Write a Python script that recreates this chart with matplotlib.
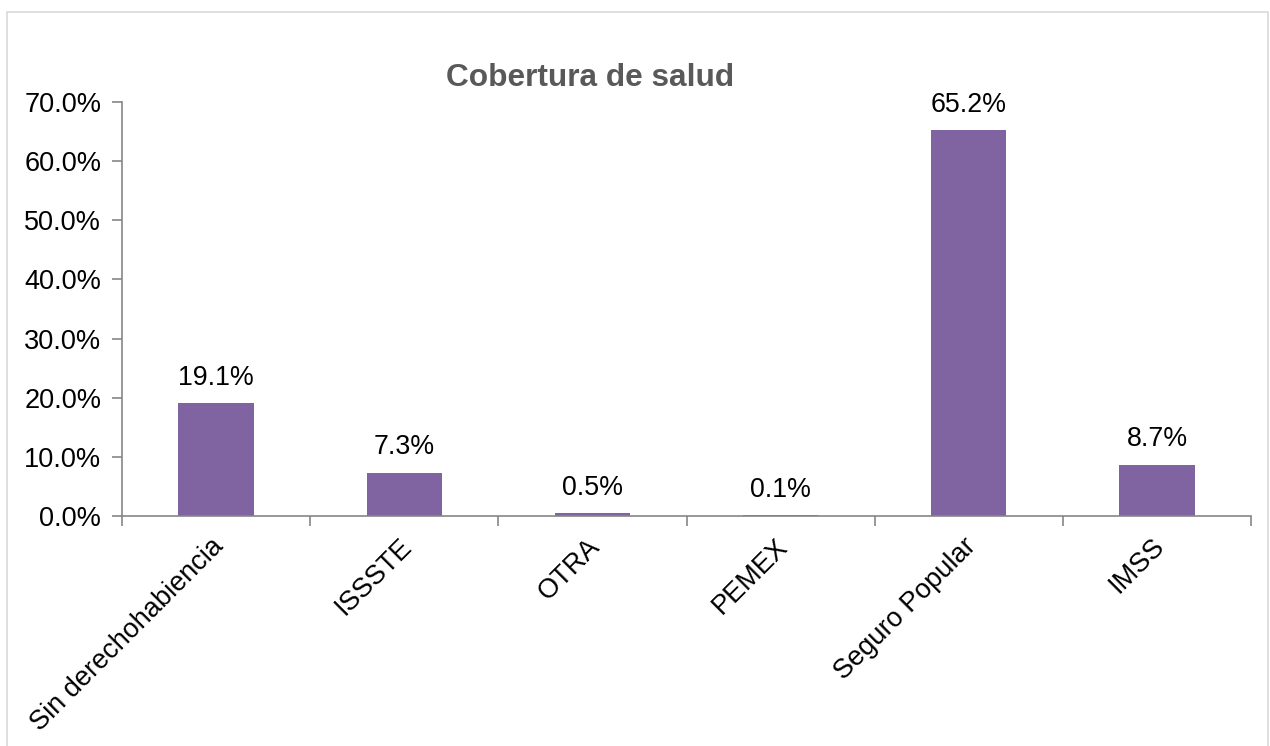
import matplotlib.pyplot as plt
from matplotlib.patches import Rectangle
from matplotlib.ticker import FuncFormatter
from matplotlib.transforms import ScaledTranslation
import numpy as np

# Data
categories = ["Sin derechohabiencia", "ISSSTE", "OTRA", "PEMEX", "Seguro Popular", "IMSS"]
values = [19.1, 7.3, 0.5, 0.1, 65.2, 8.7]

plt.rcParams['font.family'] = ['Liberation Sans', 'DejaVu Sans']

fig = plt.figure(figsize=(12.7, 7.46), dpi=100)
ax = fig.add_axes([0.0961, 0.3083, 0.8890, 0.5550])

# light chart border like in Excel
fig.patches.append(Rectangle((0.0055, -0.01), 0.993, 0.994, transform=fig.transFigure,
                             fill=False, edgecolor='#d9d9d9', linewidth=1.2))

x = np.arange(len(categories))
bars = ax.bar(x, values, width=0.4, color='#8064a2')
ax.bar_label(bars, labels=[f"{v:.1f}%" for v in values], padding=9, fontsize=19.3, color='black')

ax.set_xlim(-0.5, len(categories) - 0.5)
ax.set_ylim(0, 70)
ax.set_yticks(np.arange(0, 71, 10))
ax.yaxis.set_major_formatter(FuncFormatter(lambda v, p: f"{v:.1f}%"))

# ticks at the category boundaries, labels at the centres
ax.set_xticks(np.arange(-0.5, len(categories), 1.0))
ax.set_xticklabels([])
ax.tick_params(axis='x', which='major', length=7, color='#868686', width=1.2)
ax.set_xticks(x, minor=True)
ax.set_xticklabels(categories, minor=True, rotation=45, ha='right', va='top',
                   rotation_mode='anchor', fontsize=19.5)
ax.tick_params(axis='x', which='minor', length=0, pad=12.5)
shift = ScaledTranslation(-6 / 100, 0, fig.dpi_scale_trans)
for lab in ax.get_xticklabels(minor=True):
    lab.set_transform(lab.get_transform() + shift)
ax.tick_params(axis='y', length=7, color='#868686', width=1.2, labelsize=19.5, pad=8)

for side in ['top', 'right']:
    ax.spines[side].set_visible(False)
for side in ['left', 'bottom']:
    ax.spines[side].set_color('#868686')
    ax.spines[side].set_linewidth(1.2)

fig.text(0.465, 0.895, "Cobertura de salud", ha='center', va='center',
         fontsize=22.8, fontweight='bold', color='#595959')

fig.savefig("out.png", dpi=100)
